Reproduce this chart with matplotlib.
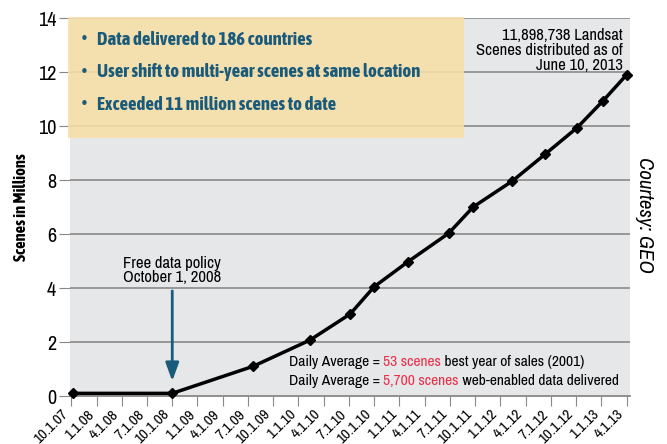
import matplotlib
matplotlib.use('Agg')
import matplotlib.pyplot as plt
from matplotlib import font_manager

# quarter labels on the x axis
quarters = ['10.1.07', '1.1.08', '4.1.08', '7.1.08', '10.1.08', '1.1.09', '4.1.09',
            '7.1.09', '10.1.09', '1.1.10', '4.1.10', '7.1.10', '10.1.10', '1.1.11',
            '4.1.11', '7.1.11', '10.1.11', '1.1.12', '4.1.12', '7.1.12', '10.1.12',
            '1.1.13', '4.1.13']

# cumulative scenes (millions), x in quarters since 10.1.07
qpos = [0.05, 4.0, 7.2, 9.45, 11.05, 12.0, 13.33, 14.95, 15.93, 17.48, 18.76, 20.05, 21.07, 22.0]
scenes = [0.1, 0.1, 1.1, 2.07, 3.04, 4.05, 4.97, 6.03, 7.01, 7.97, 8.95, 9.95, 10.94, 11.9]

bullets = ['Data delivered to 186 countries',
           'User shift to multi-year scenes at same location',
           'Exceeded 11 million scenes to date']

# narrow fonts: one for regular text, one that has a bold face
fonts = font_manager.fontManager.ttflist
narrow = sorted(set(f.name for f in fonts if 'Narrow' in f.name or 'Condensed' in f.name))
bold_ok = [n for n in narrow
           if any(f.name == n and f.weight in ('bold', 700, 'semibold', 600) for f in fonts)]
reg_fam = narrow[0] if narrow else 'Roboto'
bold_fam = bold_ok[0] if bold_ok else reg_fam
plt.rcParams['font.family'] = [reg_fam, 'DejaVu Sans']

fig = plt.figure(figsize=(6.67, 4.44), dpi=100)
ax = fig.add_axes([0.105, 0.108, 0.84, 0.851])
ax.set_facecolor('#e6e7e9')

ax.set_xlim(-0.05, 22.15)
ax.set_ylim(0, 14)
ax.set_yticks(range(0, 15, 2))
ax.set_xticks(range(len(quarters)))
ax.set_xticklabels(quarters, rotation=45, ha='right', fontsize=11)
ax.tick_params(axis='y', labelsize=14.5, length=8, color='#888888', pad=2)
ax.tick_params(axis='x', length=7, color='#888888', pad=1)

for s in ['top', 'right', 'left']:
    ax.spines[s].set_visible(False)
ax.spines['bottom'].set_color('#888888')
ax.spines['bottom'].set_linewidth(1.3)

for v in range(2, 15, 2):
    ax.axhline(v, color='#8a8a8a', lw=1.2, zorder=2)

# yellow note box
box = plt.Rectangle((-0.15, 9.55), 15.7, 4.5, facecolor='#f7dea6', edgecolor='none',
                    alpha=0.88, zorder=3, clip_on=False)
ax.add_patch(box)
for i, b in enumerate(bullets):
    y = 13.2 - i * 1.2
    ax.text(0.35, y, u'\u2022', color='#1a5a7a', fontsize=11, va='center', zorder=4,
            family='DejaVu Sans')
    ax.text(1.0, y, b, color='#1a5a7a', fontsize=13.5, fontweight='bold', va='center',
            zorder=4, family=[bold_fam, 'DejaVu Sans'])

ax.plot(qpos, scenes, color='black', lw=2.5, marker='D', ms=5, zorder=5, clip_on=False)

ax.text(21.85, 13.65, '11,898,738 Landsat\nScenes distributed as of\nJune 10, 2013',
        ha='right', va='top', fontsize=12, linespacing=1.0)

ax.annotate('', xy=(4, 0.45), xytext=(4, 4.0),
            arrowprops=dict(arrowstyle='-|>,head_width=0.4,head_length=1.1',
                            color='#1a5a7a', lw=2))
ax.text(4, 4.1, 'Free data policy\nOctober 1, 2008', ha='center', va='bottom',
        fontsize=12, linespacing=0.95)

# daily average lines with red highlights
for y, parts in [(1.27, ['Daily Average = ', '53 scenes', ' best year of sales (2001)']),
                 (0.55, ['Daily Average = ', '5,700 scenes', ' web-enabled data delivered'])]:
    t = ax.text(8.62, y, parts[0], fontsize=11.2, va='center', zorder=6)
    t = ax.annotate(parts[1], xy=(1, 0), xycoords=t, va='bottom', fontsize=11.2,
                    color='#e8304a', zorder=6)
    ax.annotate(parts[2], xy=(1, 0), xycoords=t, va='bottom', fontsize=11.2, zorder=6)

ax.set_ylabel('Scenes in Millions', fontsize=12, fontweight='bold', labelpad=6,
              family=[bold_fam, 'DejaVu Sans'])
fig.text(0.967, 0.515, 'Courtesy: GEO', rotation=-90, ha='center', va='center',
         fontsize=15, style='italic')

plt.savefig('out.png', dpi=100)
plt.close()
